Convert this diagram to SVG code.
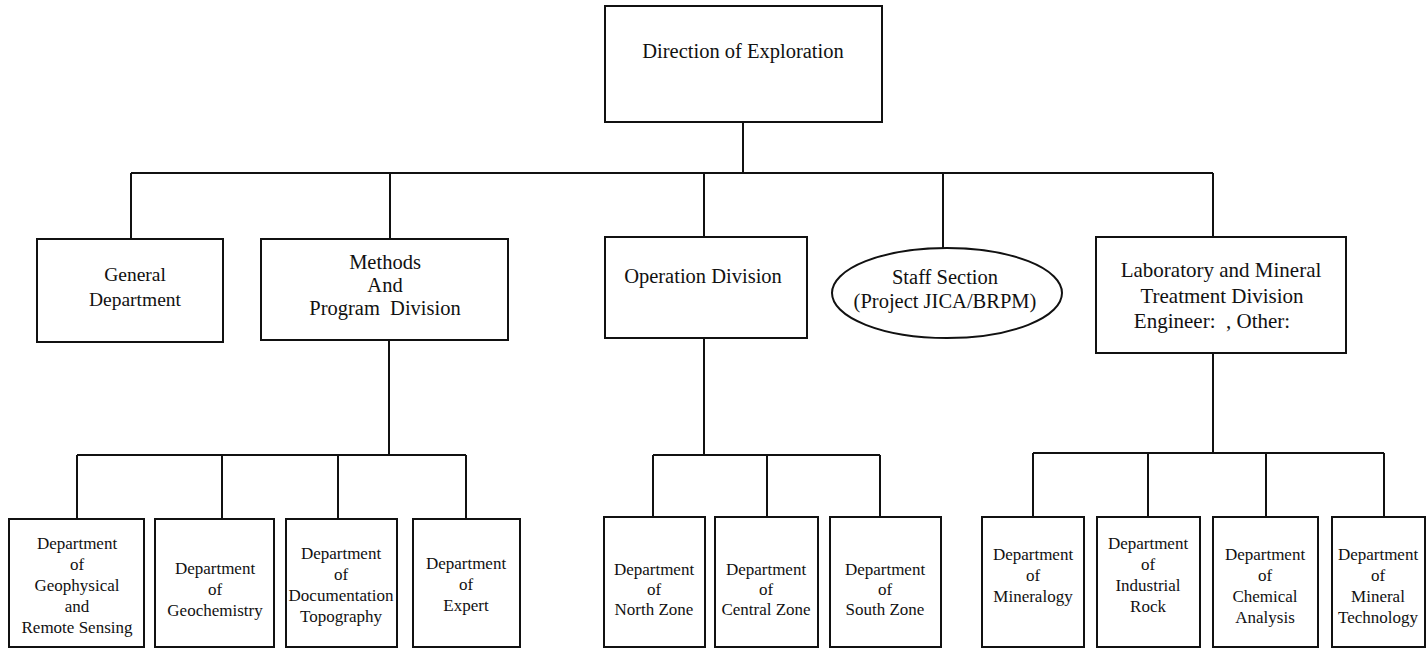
<svg xmlns="http://www.w3.org/2000/svg" width="1428" height="649" viewBox="0 0 1428 649">
<style>
.box{fill:#fff;stroke:#111;stroke-width:2}
.ln{fill:none;stroke:#111;stroke-width:2}
text{font-family:"Liberation Serif","Times New Roman",serif;fill:#111;text-anchor:middle}
.t1{font-size:20.5px}
.t3{font-size:17px}
</style>
<rect width="1428" height="649" fill="#fff"/>
<g id="connectors">
<path class="ln" d="M743,122V173M131,173H1213M131,173V239M390,173V239M704,173V237M943,173V248M1213,173V237"/>
<path class="ln" d="M389,340V455M77,455H466M77,455V519M222,455V519M338,455V519M466,455V519"/>
<path class="ln" d="M704,338V455M653,455H880M653,455V517M767,455V517M880,455V517"/>
<path class="ln" d="M1213,353V453M1033,453H1384M1033,453V517M1148,453V517M1266,453V517M1384,453V517"/>
</g>
<g id="direction"><rect class="box" x="605" y="6" width="277" height="116"/><text class="t1" x="743" y="58">Direction of Exploration</text></g>
<g id="general"><rect class="box" x="37" y="239" width="186" height="103"/><text class="t1" x="135" y="281" style="font-size:19.5px">General</text><text class="t1" x="135" y="306" style="font-size:19.5px">Department</text></g>
<g id="methods"><rect class="box" x="261" y="239" width="247" height="101"/><text class="t1" x="385" y="269">Methods</text><text class="t1" x="385" y="292">And</text><text class="t1" x="385" y="315" xml:space="preserve">Program  Division</text></g>
<g id="operation"><rect class="box" x="605" y="237" width="202" height="101"/><text class="t1" x="703" y="283">Operation Division</text></g>
<g id="staff"><ellipse class="box" cx="947" cy="293" rx="115" ry="45"/><text class="t1" x="945" y="284">Staff Section</text><text class="t1" x="945" y="308">(Project JICA/BRPM)</text></g>
<g id="laboratory"><rect class="box" x="1096" y="237" width="250" height="116"/><text class="t1" x="1221" y="277" style="font-size:21px">Laboratory and Mineral</text><text class="t1" x="1222" y="303" style="font-size:21px">Treatment Division</text><text class="t1" x="1212" y="328" style="font-size:21px" xml:space="preserve">Engineer:  , Other:</text></g>
<g id="geophysical"><rect class="box" x="9" y="519" width="135" height="128"/><text class="t3" x="77" y="549">Department</text><text class="t3" x="77" y="570">of</text><text class="t3" x="77" y="591">Geophysical</text><text class="t3" x="77" y="612">and</text><text class="t3" x="77" y="633">Remote Sensing</text></g>
<g id="geochemistry"><rect class="box" x="155" y="519" width="119" height="128"/><text class="t3" x="215" y="574">Department</text><text class="t3" x="215" y="595">of</text><text class="t3" x="215" y="616">Geochemistry</text></g>
<g id="documentation"><rect class="box" x="286" y="519" width="111" height="128"/><text class="t3" x="341" y="559">Department</text><text class="t3" x="341" y="580">of</text><text class="t3" x="341" y="601">Documentation</text><text class="t3" x="341" y="622">Topography</text></g>
<g id="expert"><rect class="box" x="413" y="519" width="107" height="128"/><text class="t3" x="466" y="569">Department</text><text class="t3" x="466" y="590">of</text><text class="t3" x="466" y="611">Expert</text></g>
<g id="north"><rect class="box" x="604" y="517" width="101" height="130"/><text class="t3" x="654" y="575">Department</text><text class="t3" x="654" y="595">of</text><text class="t3" x="654" y="615">North Zone</text></g>
<g id="central"><rect class="box" x="715" y="517" width="103" height="130"/><text class="t3" x="766" y="575">Department</text><text class="t3" x="766" y="595">of</text><text class="t3" x="766" y="615">Central Zone</text></g>
<g id="south"><rect class="box" x="830" y="517" width="111" height="130"/><text class="t3" x="885" y="575">Department</text><text class="t3" x="885" y="595">of</text><text class="t3" x="885" y="615">South Zone</text></g>
<g id="mineralogy"><rect class="box" x="982" y="517" width="102" height="130"/><text class="t3" x="1033" y="560">Department</text><text class="t3" x="1033" y="581">of</text><text class="t3" x="1033" y="602">Mineralogy</text></g>
<g id="industrial"><rect class="box" x="1097" y="517" width="103" height="130"/><text class="t3" x="1148" y="549">Department</text><text class="t3" x="1148" y="570">of</text><text class="t3" x="1148" y="591">Industrial</text><text class="t3" x="1148" y="612">Rock</text></g>
<g id="chemical"><rect class="box" x="1213" y="517" width="105" height="130"/><text class="t3" x="1265" y="560">Department</text><text class="t3" x="1265" y="581">of</text><text class="t3" x="1265" y="602">Chemical</text><text class="t3" x="1265" y="623">Analysis</text></g>
<g id="mineraltech"><rect class="box" x="1332" y="517" width="93" height="130"/><text class="t3" x="1378" y="560">Department</text><text class="t3" x="1378" y="581">of</text><text class="t3" x="1378" y="602">Mineral</text><text class="t3" x="1378" y="623">Technology</text></g>
</svg>
